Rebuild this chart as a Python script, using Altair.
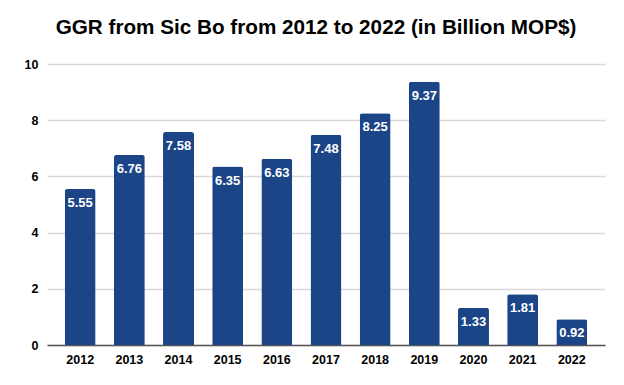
import altair as alt
import pandas as pd

years = ["2012", "2013", "2014", "2015", "2016", "2017", "2018", "2019", "2020", "2021", "2022"]
ggr = [5.55, 6.76, 7.58, 6.35, 6.63, 7.48, 8.25, 9.37, 1.33, 1.81, 0.92]

df = pd.DataFrame({"year": years, "ggr": ggr})
df["label"] = [f"{v:.2f}" for v in ggr]

FONT = "Liberation Sans"
BLUE = "#1c4587"

base = alt.Chart(df).encode(
    x=alt.X("year:N", sort=years,
            scale=alt.Scale(paddingInner=0.37, paddingOuter=0.36),
            axis=alt.Axis(title=None, labelAngle=0, labelFontWeight="bold", labelFontSize=12.5,
                          labelColor="#000000", labelFont=FONT, ticks=False, domainColor="#555555",
                          domainWidth=1.5, labelPadding=8)),
    y=alt.Y("ggr:Q", scale=alt.Scale(domain=[0, 10]),
            axis=alt.Axis(title=None, values=[0, 2, 4, 6, 8, 10], labelFontWeight="bold",
                          labelFontSize=12.5, labelColor="#000000", labelFont=FONT, ticks=False,
                          domain=False, gridColor="#d9d9d9", gridWidth=1.5, labelPadding=9)),
)

bars = base.mark_bar(color=BLUE, cornerRadiusTopLeft=2.5, cornerRadiusTopRight=2.5)
text = base.mark_text(baseline="middle", dy=14, color="white", fontWeight="bold",
                      fontSize=13, font=FONT).encode(text="label:N")

chart = (bars + text).properties(
    width=558, height=281,
    title=alt.Title("GGR from Sic Bo from 2012 to 2022 (in Billion MOP$)", fontSize=20.7,
                    fontWeight="bold", font=FONT, color="#000000", offset=19, dx=-10),
    autosize=alt.AutoSizeParams(type="none"),
    padding={"left": 39, "top": 56, "right": 11, "bottom": 32},
).configure_view(stroke=None)

chart.save("out.html", embed_options={"renderer": "svg", "actions": False})
